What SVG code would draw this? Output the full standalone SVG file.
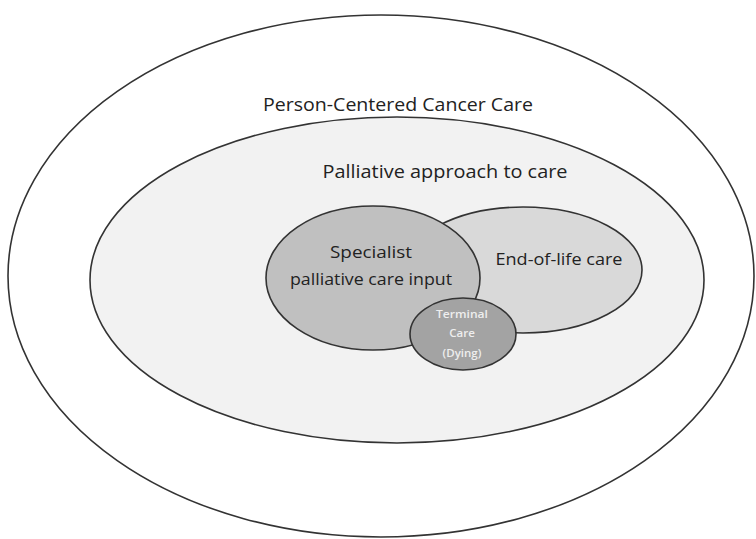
<svg xmlns="http://www.w3.org/2000/svg" width="756" height="539" viewBox="0 0 756 539">
<style>
.e{stroke:#333;stroke-width:1.6}
.t{font-family:"Open Sans","Liberation Sans",sans-serif;fill:#222;text-anchor:middle}
.w{font-family:"Open Sans","Liberation Sans",sans-serif;fill:#eeeeee;text-anchor:middle;font-weight:600;font-size:11.5px}
</style>
<rect width="756" height="539" fill="#fff"/>
<g id="person-centered">
<ellipse class="e" cx="381" cy="276" rx="373" ry="261" fill="#fff" stroke-width="1.3"/>
<text class="t" x="398" y="111" font-size="18" textLength="270" lengthAdjust="spacingAndGlyphs">Person-Centered Cancer Care</text>
</g>
<g id="palliative">
<ellipse class="e" cx="397" cy="280" rx="307" ry="163" fill="#f2f2f2"/>
<text class="t" x="445" y="178" font-size="18" textLength="245" lengthAdjust="spacingAndGlyphs">Palliative approach to care</text>
</g>
<g id="end-of-life">
<ellipse class="e" cx="523" cy="270" rx="119" ry="63" fill="#d9d9d9"/>
<text class="t" x="559" y="265" font-size="16" textLength="127" lengthAdjust="spacingAndGlyphs">End-of-life care</text>
</g>
<g id="specialist">
<ellipse class="e" cx="373" cy="278" rx="107" ry="72" fill="#c0c0c0"/>
<text class="t" x="371" y="258" font-size="16" textLength="82" lengthAdjust="spacingAndGlyphs">Specialist</text>
<text class="t" x="371" y="285" font-size="16" textLength="162" lengthAdjust="spacingAndGlyphs">palliative care input</text>
</g>
<g id="terminal">
<ellipse class="e" cx="463" cy="334" rx="53" ry="36" fill="#a3a3a3"/>
<text class="w" x="462" y="318" textLength="52" lengthAdjust="spacingAndGlyphs">Terminal</text>
<text class="w" x="462" y="337">Care</text>
<text class="w" x="462" y="357">(Dying)</text>
</g>
<g id="connectors"/>
</svg>
